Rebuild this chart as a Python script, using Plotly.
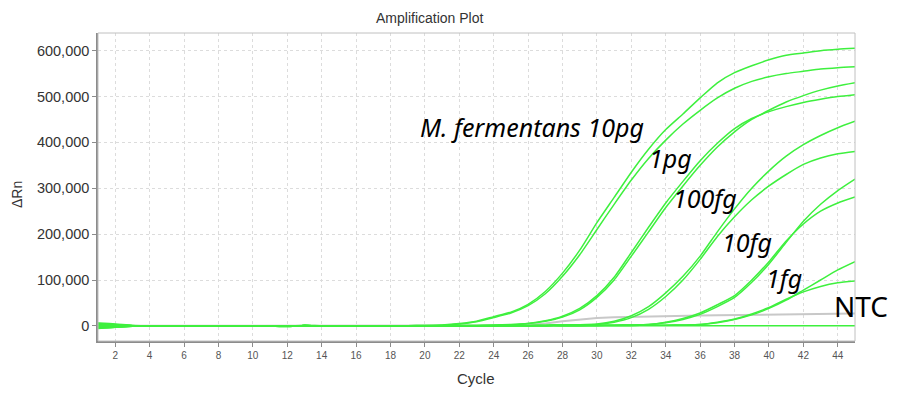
import plotly.graph_objects as go

cycles = list(range(1, 46))

# ΔRn values in thousands, per cycle 1..45
s10pg_a = [5,3,1,0,0,0,0,0,0,0,-0.5,-1.5,1,0,0,0,0,0,0.5,1,2,
           5,10,20,30,47,75,115,165,225,280,335,385,428,462,497,530,552,567,580,590,595,600,603,605]
s10pg_b = [-4,-3,-1,0,0,0,0,0,0,0,0,-1,1.5,0,0,0,0,0,0.5,1,1.5,
           4,9,18,28,44,70,108,155,210,265,318,365,405,440,470,497,518,533,543,550,555,560,563,565]
s1pg_a = [3,2,0.5,0,0,0,0,0,0,0,-0.5,-1,0.5,0,0,0,0,0,0,0.5,0.5,1,1,1.5,2.5,
          5,10,19,35,62,100,152,205,258,305,350,390,423,450,470,488,502,514,523,530]
s1pg_b = [-3,-2,-0.5,0,0,0,0,0,0,0,0,-1,1,0,0,0,0,0,0,0.5,0.5,1,1,2,3,
          5,11,21,38,66,106,160,215,268,315,360,398,430,452,467,478,487,494,500,504]
s100fg_a = [6,4,1,0,0,0,0,0,0,0,-0.5,-1.5,1,0,0,0,0,0,0,0,0,0,0.5,0.5,1,1,1.5,2,2.5,
            4,10,22,42,72,108,152,205,255,300,338,370,395,415,432,446]
s100fg_b = [-5,-3,-1,0,0,0,0,0,0,0,0,-1,1,0,0,0,0,0,0,0,0,0,0.5,0.5,1,1,1.5,2,2,
            3,8,18,36,64,100,145,195,238,275,305,330,352,366,375,380]
s10fg_a = [2,1,0,0,0,0,0,0,0,0,-0.5,-1,0.5,0,0,0,0,0,0,0,0,0,0,0,0.5,0.5,0.5,1,1,1,1.5,2,
           3,7,14,25,42,62,95,135,182,228,265,295,320]
s10fg_b = [-2,-1,0,0,0,0,0,0,0,0,0,-1,1,0,0,0,0,0,0,0,0,0,0,0,0.5,0.5,0.5,1,1,1,1.5,2,
           3,8,16,28,46,66,100,140,185,222,250,268,281]
s1fg_a = [4,2,0.5,0,0,0,0,0,0,0,-0.5,-1,0.5,0,0,0,0,0,0,0,0,0,0,0,0,0,0.5,0.5,0.5,1,1,1,1.5,1.5,2,
          3,7,14,24,38,56,78,100,122,140]
s1fg_b = [-6,-3,-1,0,0,0,0,0,0,0,0,-1,1,0,0,0,0,0,0,0,0,0,0,0,0,0,0.5,0.5,0.5,1,1,1,1.5,1.5,2,
          3,8,15,26,40,58,74,86,94,98]
ntc_green = [1,0.5,0,0,0,0,0,0,0,0,0,-1,0.5,0,0,0,0,0,0,0,0,0,0,0,0,0,0,0,0,0,0,0,0,0,0,0,0,0,0,0,0,0,0,0,0]
ntc_gray = [0,0,0,0,0,0,0,0,0,0,0,0,0,0,0,0,0,0,0,0,0,0,0,0,
            1,2,5,10,14,17,19,20,21,21.5,22,22.5,23,23.5,24,24.5,25,25.5,26,26.5,27]

green_series = [s10pg_a, s10pg_b, s1pg_a, s1pg_b, s100fg_a, s100fg_b,
                s10fg_a, s10fg_b, s1fg_a, s1fg_b, ntc_green]

labels = ["<i>M. fermentans 10pg</i>", "<i>1pg</i>", "<i>100fg</i>", "<i>10fg</i>", "<i>1fg</i>"]
label_x = [26.2, 34.3, 36.3, 38.7, 40.9]
label_y = [433000, 366000, 279000, 183000, 105000]
ntc_label = "NTC"
ntc_y = 44000

x_ticks = list(range(2, 46, 2))
y_ticks = [0, 100000, 200000, 300000, 400000, 500000, 600000]

# page body has an 8px margin; plot area in screen pixels: x 98..855, y 33..341
OFF = 8
L, T = 98 - OFF, 33 - OFF
R, B = 917 - (855 - OFF), 399 - (341 - OFF)
PW, PH = 757, 308

fig = go.Figure()
fig.add_trace(go.Scatter(x=cycles, y=[v * 1000 for v in ntc_gray], mode="lines",
                         line=dict(color="#c8c8c8", width=2), showlegend=False, hoverinfo="skip"))
for s in green_series:
    fig.add_trace(go.Scatter(x=cycles, y=[v * 1000 for v in s], mode="lines",
                             line=dict(color="#3ef03e", width=1.5, shape="spline", smoothing=0.6),
                             showlegend=False, hoverinfo="skip"))

for t, xv, yv in zip(labels, label_x, label_y):
    fig.add_annotation(x=xv, y=yv, text=t, showarrow=False, xanchor="center", yanchor="middle",
                       font=dict(family="Noto Sans", size=25, color="#000000"))
fig.add_annotation(xref="paper", x=(861 - 98) / PW, y=ntc_y, text=ntc_label, showarrow=False,
                   xanchor="center", yanchor="middle",
                   font=dict(family="Noto Sans", size=28, color="#000000"))

fig.add_annotation(xref="paper", yref="paper", x=(429 - 98) / PW, y=1, yshift=15,
                   text="Amplification Plot", showarrow=False, xanchor="center", yanchor="middle",
                   font=dict(family="Liberation Sans", size=14, color="#333333"))
fig.add_annotation(xref="paper", yref="paper", x=(476 - 98) / PW, y=0, yshift=-37,
                   text="Cycle", showarrow=False, xanchor="center", yanchor="middle",
                   font=dict(family="Liberation Sans", size=15, color="#333333"))
fig.add_annotation(xref="paper", yref="paper", x=(17 - 98) / PW, y=(341 - 195) / PH,
                   text="ΔRn", showarrow=False, xanchor="center", yanchor="middle", textangle=-90,
                   font=dict(family="Liberation Sans", size=14, color="#333333"))

fig.add_shape(type="rect", xref="paper", yref="paper", x0=0, y0=0, x1=1, y1=1,
              line=dict(color="#c0c0c0", width=1), layer="above")

fig.update_layout(
    width=917, height=399,
    margin=dict(l=L, r=R, t=T, b=B, autoexpand=False),
    paper_bgcolor="white", plot_bgcolor="white",
    font=dict(family="Liberation Sans", color="#333333"),
    xaxis=dict(range=[1, 45], tickvals=x_ticks, ticktext=[str(v) for v in x_ticks],
               showgrid=True, gridcolor="#dcdcdc", griddash="dot", gridwidth=1,
               showline=True, linecolor="#8c8c8c", linewidth=1.5, mirror=False,
               ticks="outside", ticklen=4, tickcolor="#8c8c8c", automargin=False,
               tickfont=dict(size=10, color="#555555"), zeroline=False),
    yaxis=dict(range=[-33000, 638500], tickvals=y_ticks, tickformat=",d",
               showgrid=True, gridcolor="#dcdcdc", griddash="dot", gridwidth=1,
               showline=True, linecolor="#8c8c8c", linewidth=1.5, automargin=False,
               ticks="outside", ticklen=4, tickcolor="#8c8c8c",
               tickfont=dict(size=14.5, color="#333333"), zeroline=False),
)

fig.write_html("out.html")
